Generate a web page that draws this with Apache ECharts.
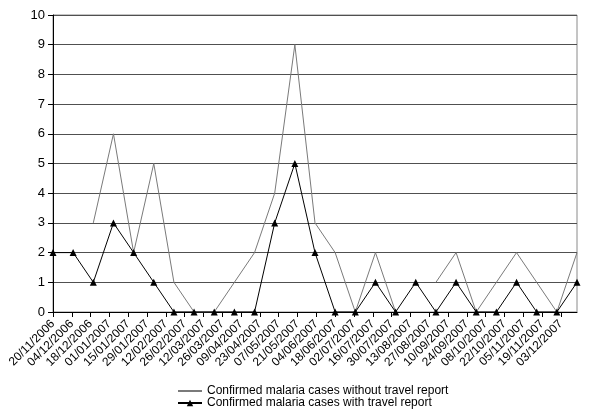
<!DOCTYPE html>
<html>
<head>
<meta charset="utf-8">
<script src="https://cdn.jsdelivr.net/npm/echarts@6/dist/echarts.min.js"></script>
<style>
  html, body { margin: 0; padding: 0; background: #fff; }
  #chart { width: 600px; height: 420px; }
</style>
</head>
<body>
<div id="chart"></div>
<script>
// sampling dates of the two series
const dates = [
  '2006-11-20', '2006-12-05', '2006-12-20', '2007-01-04', '2007-01-19',
  '2007-02-03', '2007-02-18', '2007-03-05', '2007-03-20', '2007-04-04',
  '2007-04-19', '2007-05-04', '2007-05-19', '2007-06-03', '2007-06-18',
  '2007-07-03', '2007-07-18', '2007-08-02', '2007-08-17', '2007-09-01',
  '2007-09-16', '2007-10-01', '2007-10-16', '2007-10-31', '2007-11-15',
  '2007-11-30', '2007-12-15'
]
const withoutTravel = [null, null, 3, 6, 2, 5, 1, 0, 0, 1, 2, 4, 9, 3, 2, 0, 2, 0, null, 1, 2, 0, 1, 2, 1, 0, 2]
const withTravel = [2, 2, 1, 3, 2, 1, 0, 0, 0, 0, 0, 3, 5, 2, 0, 0, 1, 0, 1, 0, 1, 0, 0, 1, 0, 0, 1]
const legendNames = ['Confirmed malaria cases without travel report', 'Confirmed malaria cases with travel report']

// x axis runs in days from the first date, ticks every 14 days
const startDate = '2006-11-20'
const axisDays = 390
const tickDays = 14

const DAY = 86400000
const toDay = s => Math.round((Date.parse(s + 'T00:00:00Z') - Date.parse(startDate + 'T00:00:00Z')) / DAY)
const pad = n => (n < 10 ? '0' : '') + n
const dayLabel = v => {
  const d = new Date(Date.parse(startDate + 'T00:00:00Z') + v * DAY)
  return pad(d.getUTCDate()) + '/' + pad(d.getUTCMonth() + 1) + '/' + d.getUTCFullYear()
}
const pairs = vals => dates.map((s, i) => [toDay(s), vals[i]])

const font = 'Liberation Sans, Arial, sans-serif'
const chart = echarts.init(document.getElementById('chart'))
chart.setOption({
  animation: false,
  backgroundColor: '#fff',
  textStyle: { fontFamily: font },
  grid: {
    left: 53, right: 23, top: 15, bottom: 108,
    show: true, borderColor: '#8a8a8a', borderWidth: 1
  },
  legend: {
    orient: 'vertical',
    left: 172,
    top: 380,
    itemWidth: 24,
    itemHeight: 8,
    itemGap: 0,
    textStyle: { fontSize: 12, color: '#000', lineHeight: 12, fontFamily: font },
    // the plain line has no marker in the legend either
    data: [{ name: legendNames[0], itemStyle: { opacity: 0 } }, legendNames[1]]
  },
  xAxis: {
    type: 'value',
    min: 0,
    max: axisDays,
    interval: tickDays,
    axisLine: { show: true, lineStyle: { color: '#000' } },
    axisTick: { show: true, length: 5, lineStyle: { color: '#000' } },
    splitLine: { show: false },
    axisLabel: {
      rotate: 45,
      fontSize: 12,
      color: '#000',
      margin: 10,
      showMaxLabel: false,
      formatter: dayLabel
    }
  },
  yAxis: {
    type: 'value',
    min: 0,
    max: 10,
    interval: 1,
    axisLine: { show: true, lineStyle: { color: '#000' } },
    axisTick: { show: true, length: 5, lineStyle: { color: '#000' } },
    splitLine: { lineStyle: { color: '#505050', width: 1 } },
    axisLabel: { fontSize: 13, color: '#000', margin: 8 }
  },
  series: [{
    name: legendNames[0],
    type: 'line',
    data: pairs(withoutTravel),
    showSymbol: false,
    symbol: 'none',
    lineStyle: { color: '#7a7a7a', width: 1 },
    itemStyle: { color: '#7a7a7a' }
  }, {
    name: legendNames[1],
    type: 'line',
    data: pairs(withTravel),
    symbol: 'triangle',
    symbolSize: 7,
    lineStyle: { color: '#000', width: 1 },
    itemStyle: { color: '#000' }
  }]
})
</script>
</body>
</html>
